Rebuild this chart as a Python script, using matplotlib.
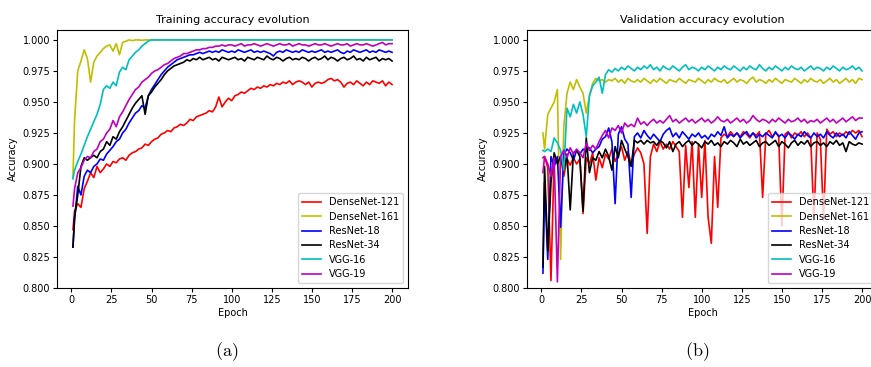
import matplotlib
matplotlib.use("Agg")
import matplotlib.pyplot as plt

plt.rcParams['mathtext.fontset'] = 'cm'

epochs = [1] + list(range(2, 201, 2))
labels = ["DenseNet-121", "DenseNet-161", "ResNet-18", "ResNet-34", "VGG-16", "VGG-19"]
colors = ["r", "y", "b", "k", "c", "m"]

train_densenet121 = [
    0.847, 0.862, 0.868, 0.865, 0.880, 0.886, 0.893, 0.889, 0.898, 0.893,
    0.896, 0.900, 0.898, 0.902, 0.901, 0.904, 0.905, 0.903, 0.907, 0.909,
    0.910, 0.912, 0.913, 0.916, 0.915, 0.918, 0.920, 0.921, 0.924, 0.925,
    0.927, 0.926, 0.929, 0.930, 0.932, 0.931, 0.933, 0.936, 0.935, 0.938,
    0.939, 0.940, 0.941, 0.943, 0.942, 0.946, 0.954, 0.946, 0.950, 0.953,
    0.951, 0.955, 0.956, 0.958, 0.957, 0.959, 0.961, 0.960, 0.962, 0.961,
    0.963, 0.962, 0.964, 0.963, 0.965, 0.964, 0.966, 0.965, 0.967, 0.964,
    0.966, 0.967, 0.966, 0.964, 0.966, 0.962, 0.965, 0.966, 0.965, 0.966,
    0.968, 0.969, 0.967, 0.968, 0.966, 0.962, 0.965, 0.966, 0.964, 0.967,
    0.965, 0.963, 0.966, 0.964, 0.967, 0.966, 0.965, 0.967, 0.963, 0.966,
    0.964]
train_densenet161 = [
    0.889, 0.935, 0.975, 0.983, 0.992, 0.985, 0.966, 0.982, 0.987, 0.990,
    0.993, 0.995, 0.996, 0.991, 0.997, 0.988, 0.998, 0.999, 1.000, 0.9995,
    1.000, 1.000, 0.9997, 1.000, 1.000, 1.000, 0.9998, 1.000, 1.000, 1.000,
    1.000, 1.000, 1.000, 0.9998, 1.000, 1.000, 1.000, 1.000, 1.000, 1.000,
    1.000, 1.000, 1.000, 1.000, 1.000, 1.000, 1.000, 1.000, 1.000, 1.000,
    1.000, 1.000, 1.000, 1.000, 1.000, 1.000, 1.000, 1.000, 1.000, 1.000,
    1.000, 1.000, 1.000, 1.000, 1.000, 1.000, 1.000, 1.000, 1.000, 1.000,
    1.000, 1.000, 1.000, 1.000, 1.000, 1.000, 1.000, 1.000, 1.000, 1.000,
    1.000, 1.000, 1.000, 1.000, 1.000, 1.000, 1.000, 1.000, 1.000, 1.000,
    1.000, 1.000, 1.000, 1.000, 1.000, 1.000, 1.000, 1.000, 1.000, 1.000,
    1.000]
train_resnet18 = [
    0.833, 0.855, 0.882, 0.875, 0.890, 0.895, 0.893, 0.898, 0.900, 0.904,
    0.903, 0.908, 0.911, 0.914, 0.918, 0.920, 0.925, 0.928, 0.933, 0.937,
    0.941, 0.943, 0.947, 0.945, 0.955, 0.960, 0.964, 0.968, 0.972, 0.975,
    0.978, 0.980, 0.982, 0.984, 0.985, 0.986, 0.987, 0.988, 0.988, 0.989,
    0.990, 0.989, 0.990, 0.991, 0.990, 0.991, 0.990, 0.992, 0.991, 0.990,
    0.991, 0.990, 0.992, 0.991, 0.990, 0.991, 0.992, 0.990, 0.991, 0.990,
    0.991, 0.990, 0.989, 0.987, 0.990, 0.991, 0.990, 0.992, 0.991, 0.990,
    0.991, 0.990, 0.992, 0.991, 0.990, 0.991, 0.990, 0.991, 0.992, 0.990,
    0.991, 0.990, 0.991, 0.992, 0.990, 0.989, 0.991, 0.990, 0.992, 0.991,
    0.990, 0.991, 0.992, 0.990, 0.991, 0.990, 0.992, 0.991, 0.990, 0.991,
    0.990]
train_resnet34 = [
    0.833, 0.857, 0.875, 0.898, 0.905, 0.903, 0.905, 0.907, 0.905, 0.910,
    0.912, 0.918, 0.915, 0.922, 0.920, 0.926, 0.930, 0.935, 0.940, 0.945,
    0.949, 0.952, 0.955, 0.940, 0.955, 0.958, 0.962, 0.965, 0.968, 0.972,
    0.975, 0.977, 0.979, 0.980, 0.981, 0.982, 0.984, 0.983, 0.985, 0.984,
    0.986, 0.984, 0.985, 0.986, 0.984, 0.985, 0.983, 0.986, 0.985, 0.984,
    0.985, 0.986, 0.984, 0.985, 0.983, 0.986, 0.985, 0.984, 0.986, 0.985,
    0.984, 0.987, 0.985, 0.984, 0.986, 0.985, 0.983, 0.985, 0.986, 0.984,
    0.985, 0.984, 0.986, 0.985, 0.983, 0.985, 0.986, 0.984, 0.985, 0.987,
    0.984, 0.986, 0.985, 0.983, 0.985, 0.986, 0.984, 0.985, 0.987, 0.984,
    0.985, 0.983, 0.986, 0.984, 0.985, 0.986, 0.983, 0.985, 0.984, 0.985,
    0.983]
train_vgg16 = [
    0.888, 0.895, 0.902, 0.908, 0.915, 0.922, 0.928, 0.934, 0.940, 0.948,
    0.960, 0.963, 0.961, 0.966, 0.963, 0.974, 0.978, 0.976, 0.984, 0.987,
    0.990, 0.992, 0.995, 0.997, 0.999, 1.000, 1.000, 1.000, 1.000, 1.000,
    1.000, 1.000, 1.000, 1.000, 1.000, 1.000, 1.000, 1.000, 1.000, 1.000,
    1.000, 1.000, 1.000, 1.000, 1.000, 1.000, 1.000, 1.000, 1.000, 1.000,
    1.000, 1.000, 1.000, 1.000, 1.000, 1.000, 1.000, 1.000, 1.000, 1.000,
    1.000, 1.000, 1.000, 1.000, 1.000, 1.000, 1.000, 1.000, 1.000, 1.000,
    1.000, 1.000, 1.000, 1.000, 1.000, 1.000, 1.000, 1.000, 1.000, 1.000,
    1.000, 1.000, 1.000, 1.000, 1.000, 1.000, 1.000, 1.000, 1.000, 1.000,
    1.000, 1.000, 1.000, 1.000, 1.000, 1.000, 1.000, 1.000, 1.000, 1.000,
    1.000]
train_vgg19 = [
    0.866, 0.880, 0.893, 0.897, 0.903, 0.906, 0.905, 0.910, 0.912, 0.918,
    0.920, 0.925, 0.928, 0.935, 0.930, 0.938, 0.942, 0.947, 0.952, 0.956,
    0.960, 0.962, 0.966, 0.968, 0.970, 0.973, 0.975, 0.976, 0.978, 0.980,
    0.981, 0.983, 0.985, 0.986, 0.987, 0.989, 0.989, 0.990, 0.991, 0.992,
    0.992, 0.993, 0.993, 0.994, 0.994, 0.995, 0.995, 0.996, 0.995, 0.996,
    0.996, 0.995, 0.996, 0.997, 0.995, 0.996, 0.996, 0.997, 0.996, 0.995,
    0.996, 0.997, 0.996, 0.995, 0.996, 0.997, 0.996, 0.996, 0.997, 0.995,
    0.996, 0.997, 0.996, 0.996, 0.995, 0.996, 0.997, 0.996, 0.996, 0.997,
    0.996, 0.995, 0.996, 0.997, 0.996, 0.996, 0.997, 0.995, 0.996, 0.997,
    0.996, 0.996, 0.997, 0.996, 0.995, 0.996, 0.997, 0.998, 0.996, 0.997,
    0.997]

val_densenet121 = [
    0.905, 0.906, 0.897, 0.806, 0.906, 0.903, 0.906, 0.890, 0.904, 0.899,
    0.905, 0.900, 0.904, 0.860, 0.905, 0.900, 0.909, 0.887, 0.905, 0.897,
    0.908, 0.904, 0.912, 0.902, 0.908, 0.914, 0.903, 0.910, 0.900, 0.908,
    0.913, 0.909, 0.900, 0.844, 0.906, 0.916, 0.910, 0.918, 0.912, 0.916,
    0.912, 0.918, 0.914, 0.910, 0.857, 0.915, 0.881, 0.918, 0.857, 0.916,
    0.873, 0.919, 0.857, 0.836, 0.906, 0.865, 0.921, 0.924, 0.922, 0.926,
    0.923, 0.925, 0.922, 0.926, 0.924, 0.921, 0.925, 0.923, 0.926, 0.873,
    0.924, 0.927, 0.922, 0.925, 0.923, 0.850, 0.924, 0.926, 0.921, 0.925,
    0.923, 0.926, 0.922, 0.925, 0.921, 0.855, 0.925, 0.920, 0.855, 0.928,
    0.924, 0.926, 0.922, 0.925, 0.923, 0.926, 0.924, 0.927, 0.925, 0.927,
    0.922]
val_densenet161 = [
    0.925, 0.912, 0.940, 0.945, 0.950, 0.960, 0.823, 0.930, 0.957, 0.966,
    0.960, 0.968, 0.962, 0.957, 0.941, 0.955, 0.965, 0.969, 0.967, 0.968,
    0.966, 0.968, 0.967, 0.969, 0.966, 0.968, 0.965, 0.969, 0.967, 0.966,
    0.968, 0.966, 0.969, 0.967, 0.965, 0.968, 0.966, 0.969, 0.967, 0.965,
    0.968, 0.967, 0.966, 0.969, 0.967, 0.965, 0.968, 0.967, 0.966, 0.969,
    0.967, 0.965, 0.968, 0.966, 0.969, 0.967, 0.966, 0.968, 0.965, 0.967,
    0.969, 0.966, 0.968, 0.967, 0.965, 0.968, 0.970, 0.966, 0.968, 0.967,
    0.965, 0.968, 0.966, 0.969, 0.967, 0.965, 0.968, 0.967, 0.966, 0.969,
    0.967, 0.965, 0.968, 0.966, 0.969, 0.967, 0.966, 0.968, 0.965, 0.967,
    0.969, 0.966, 0.968, 0.965, 0.967, 0.969, 0.966, 0.968, 0.965, 0.969,
    0.968]
val_resnet18 = [
    0.812, 0.885, 0.823, 0.906, 0.898, 0.906, 0.849, 0.908, 0.912, 0.909,
    0.903, 0.911, 0.908, 0.912, 0.910, 0.913, 0.909, 0.912, 0.914, 0.920,
    0.922, 0.929, 0.918, 0.868, 0.924, 0.930, 0.920, 0.916, 0.873, 0.922,
    0.925, 0.921, 0.927, 0.923, 0.920, 0.924, 0.921, 0.918, 0.924, 0.927,
    0.929, 0.922, 0.925, 0.921, 0.926, 0.923, 0.920, 0.924, 0.922, 0.925,
    0.921, 0.923, 0.920, 0.924, 0.922, 0.926, 0.923, 0.930, 0.921, 0.924,
    0.922, 0.925, 0.921, 0.924, 0.926, 0.922, 0.925, 0.921, 0.924, 0.922,
    0.925, 0.923, 0.921, 0.926, 0.922, 0.924, 0.921, 0.925, 0.923, 0.920,
    0.924, 0.922, 0.926, 0.923, 0.921, 0.925, 0.922, 0.924, 0.921, 0.926,
    0.923, 0.921, 0.925, 0.922, 0.924, 0.921, 0.926, 0.923, 0.920, 0.925,
    0.926]
val_resnet34 = [
    0.817, 0.898, 0.830, 0.885, 0.909, 0.900, 0.906, 0.895, 0.908, 0.863,
    0.909, 0.911, 0.906, 0.862, 0.921, 0.893, 0.905, 0.903, 0.910, 0.905,
    0.912, 0.906, 0.895, 0.914, 0.905, 0.919, 0.912, 0.906, 0.898, 0.919,
    0.917, 0.919, 0.916, 0.919, 0.917, 0.918, 0.915, 0.919, 0.917, 0.913,
    0.918, 0.910, 0.916, 0.918, 0.914, 0.917, 0.919, 0.915, 0.918, 0.916,
    0.913, 0.918, 0.916, 0.919, 0.915, 0.917, 0.914, 0.918, 0.916, 0.919,
    0.917, 0.914, 0.920, 0.916, 0.918, 0.915, 0.917, 0.919, 0.914, 0.917,
    0.918, 0.915, 0.917, 0.919, 0.914, 0.918, 0.916, 0.913, 0.917, 0.919,
    0.915, 0.918, 0.916, 0.919, 0.914, 0.917, 0.918, 0.915, 0.917, 0.914,
    0.918, 0.916, 0.919, 0.915, 0.917, 0.910, 0.918, 0.916, 0.915, 0.917,
    0.916]
val_vgg16 = [
    0.911, 0.910, 0.912, 0.910, 0.921, 0.917, 0.911, 0.895, 0.945, 0.938,
    0.948, 0.941, 0.950, 0.940, 0.922, 0.955, 0.963, 0.966, 0.970, 0.957,
    0.972, 0.976, 0.974, 0.977, 0.975, 0.978, 0.976, 0.979, 0.977, 0.975,
    0.978, 0.976, 0.979, 0.977, 0.980, 0.976, 0.978, 0.975, 0.979, 0.977,
    0.976, 0.979, 0.977, 0.975, 0.978, 0.980, 0.976, 0.978, 0.977, 0.975,
    0.978, 0.976, 0.979, 0.977, 0.975, 0.978, 0.976, 0.979, 0.977, 0.976,
    0.979, 0.977, 0.975, 0.978, 0.976, 0.979, 0.977, 0.976, 0.980, 0.977,
    0.975, 0.978, 0.976, 0.979, 0.977, 0.975, 0.978, 0.976, 0.979, 0.977,
    0.976, 0.978, 0.975, 0.977, 0.979, 0.976, 0.978, 0.977, 0.975, 0.978,
    0.976, 0.979, 0.977, 0.975, 0.978, 0.976, 0.977, 0.979, 0.976, 0.978,
    0.975]
val_vgg19 = [
    0.893, 0.906, 0.900, 0.890, 0.905, 0.805, 0.906, 0.911, 0.905, 0.913,
    0.908, 0.912, 0.909, 0.905, 0.917, 0.911, 0.915, 0.912, 0.918, 0.923,
    0.927, 0.921, 0.929, 0.927, 0.931, 0.925, 0.933, 0.930, 0.932, 0.930,
    0.937, 0.932, 0.934, 0.931, 0.934, 0.936, 0.933, 0.935, 0.933, 0.936,
    0.939, 0.934, 0.936, 0.933, 0.935, 0.937, 0.934, 0.936, 0.933, 0.935,
    0.937, 0.934, 0.936, 0.933, 0.935, 0.938, 0.935, 0.934, 0.936, 0.933,
    0.935, 0.937, 0.934, 0.936, 0.933, 0.935, 0.939, 0.936, 0.934, 0.936,
    0.935, 0.933, 0.936, 0.934, 0.937, 0.935, 0.933, 0.936, 0.934, 0.935,
    0.937, 0.934, 0.936, 0.933, 0.935, 0.934, 0.936, 0.933, 0.935, 0.937,
    0.934, 0.936, 0.933, 0.935, 0.937, 0.934, 0.936, 0.938, 0.935, 0.937,
    0.937]

train_series = [train_densenet121, train_densenet161, train_resnet18,
                train_resnet34, train_vgg16, train_vgg19]
val_series = [val_densenet121, val_densenet161, val_resnet18,
              val_resnet34, val_vgg16, val_vgg19]

W, H = 871, 367
fig = plt.figure(figsize=(W / 100, H / 100), dpi=100)
axw, axh = 351 / W, 258 / H
ax1 = fig.add_axes([57 / W, 1 - 288 / H, axw, axh])
ax2 = fig.add_axes([527 / W, 1 - 288 / H, axw, axh])

for ax, series, title in [(ax1, train_series, "Training accuracy evolution"),
                          (ax2, val_series, "Validation accuracy evolution")]:
    for vals, lab, col in zip(series, labels, colors):
        ax.plot(epochs, vals, color=col, lw=1.2, label=lab)
    ax.set_ylim(0.8, 1.008)
    ax.set_yticks([0.800, 0.825, 0.850, 0.875, 0.900, 0.925, 0.950, 0.975, 1.000])
    ax.set_yticklabels(["0.800", "0.825", "0.850", "0.875", "0.900", "0.925",
                        "0.950", "0.975", "1.000"])
    ax.set_xticks([0, 25, 50, 75, 100, 125, 150, 175, 200])
    ax.tick_params(labelsize=7, length=3, pad=2)
    ax.set_title(title, fontsize=8, pad=5)
    ax.set_xlabel("Epoch", fontsize=7, labelpad=2)
    ax.set_ylabel("Accuracy", fontsize=7, labelpad=3)
    ax.legend(loc="lower right", fontsize=7, handlelength=2.0,
              borderpad=0.4, labelspacing=0.45)

fig.text(227 / W, 1 - 352 / H, r"$\mathrm{(a)}$", fontsize=13, ha="center", va="center")
fig.text(697 / W, 1 - 352 / H, r"$\mathrm{(b)}$", fontsize=13, ha="center", va="center")

fig.savefig("out.png", dpi=100)
